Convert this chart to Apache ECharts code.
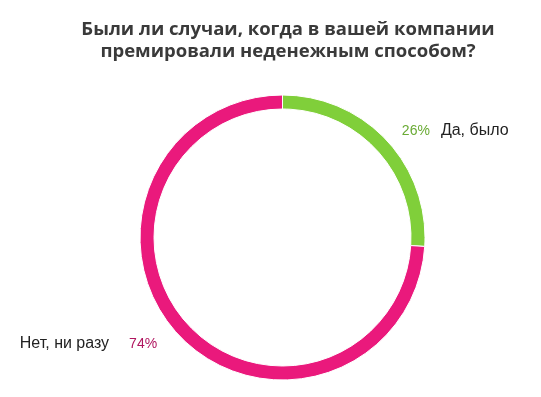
<!DOCTYPE html>
<html>
<head>
<meta charset="utf-8">
<script src="https://cdn.jsdelivr.net/npm/echarts@6/dist/echarts.min.js"></script>
<style>
  html, body { margin: 0; padding: 0; background: #fff; }
  #chart-container { width: 541px; height: 397px; }
</style>
</head>
<body>
<div id="chart-container"></div>
<script>
var titleLines = ['Были ли случаи, когда в вашей компании', 'премировали неденежным способом?'];
var categories = ['Да, было', 'Нет, ни разу'];
var shares = [26, 74];
var colors = ['#80cf3a', '#ea197c'];
var labelColors = ['#6aab35', '#b0155f'];

var dom = document.getElementById('chart-container');
var myChart = echarts.init(dom, null, { renderer: 'canvas' });

var data = categories.map(function (name, i) {
  var nameFirst = i === 1;
  return {
    name: name,
    value: shares[i],
    itemStyle: { color: colors[i] },
    labelLine: { length2: nameFirst ? 7 : 1 },
    label: {
      formatter: nameFirst ? '{n|{b}}{g|}{p|{c}%}' : '{p|{c}%}{s|}{n|{b}}',
      rich: {
        p: { color: labelColors[i], fontSize: 14, fontFamily: 'Liberation Sans' },
        n: { color: '#222', fontSize: 16, fontFamily: 'Liberation Sans' },
        s: { width: 11 },
        g: { width: 20 }
      }
    }
  };
});

var option = {
  animation: false,
  title: {
    text: titleLines.join('\n'),
    left: 283,
    top: 14,
    textAlign: 'center',
    textStyle: {
      color: '#3a3a3a',
      fontSize: 18.5,
      fontWeight: 'bold',
      fontFamily: 'Open Sans',
      lineHeight: 22
    }
  },
  series: [
    {
      type: 'pie',
      center: [282.5, 237.5],
      radius: [128.5, 142.5],
      startAngle: 90,
      clockwise: true,
      itemStyle: { borderColor: '#fff', borderWidth: 1 },
      label: { show: true, position: 'outside' },
      labelLine: { show: false, length: 13, length2: 1 },
      data: data
    }
  ]
};

myChart.setOption(option);
window.addEventListener('resize', myChart.resize);
</script>
</body>
</html>
